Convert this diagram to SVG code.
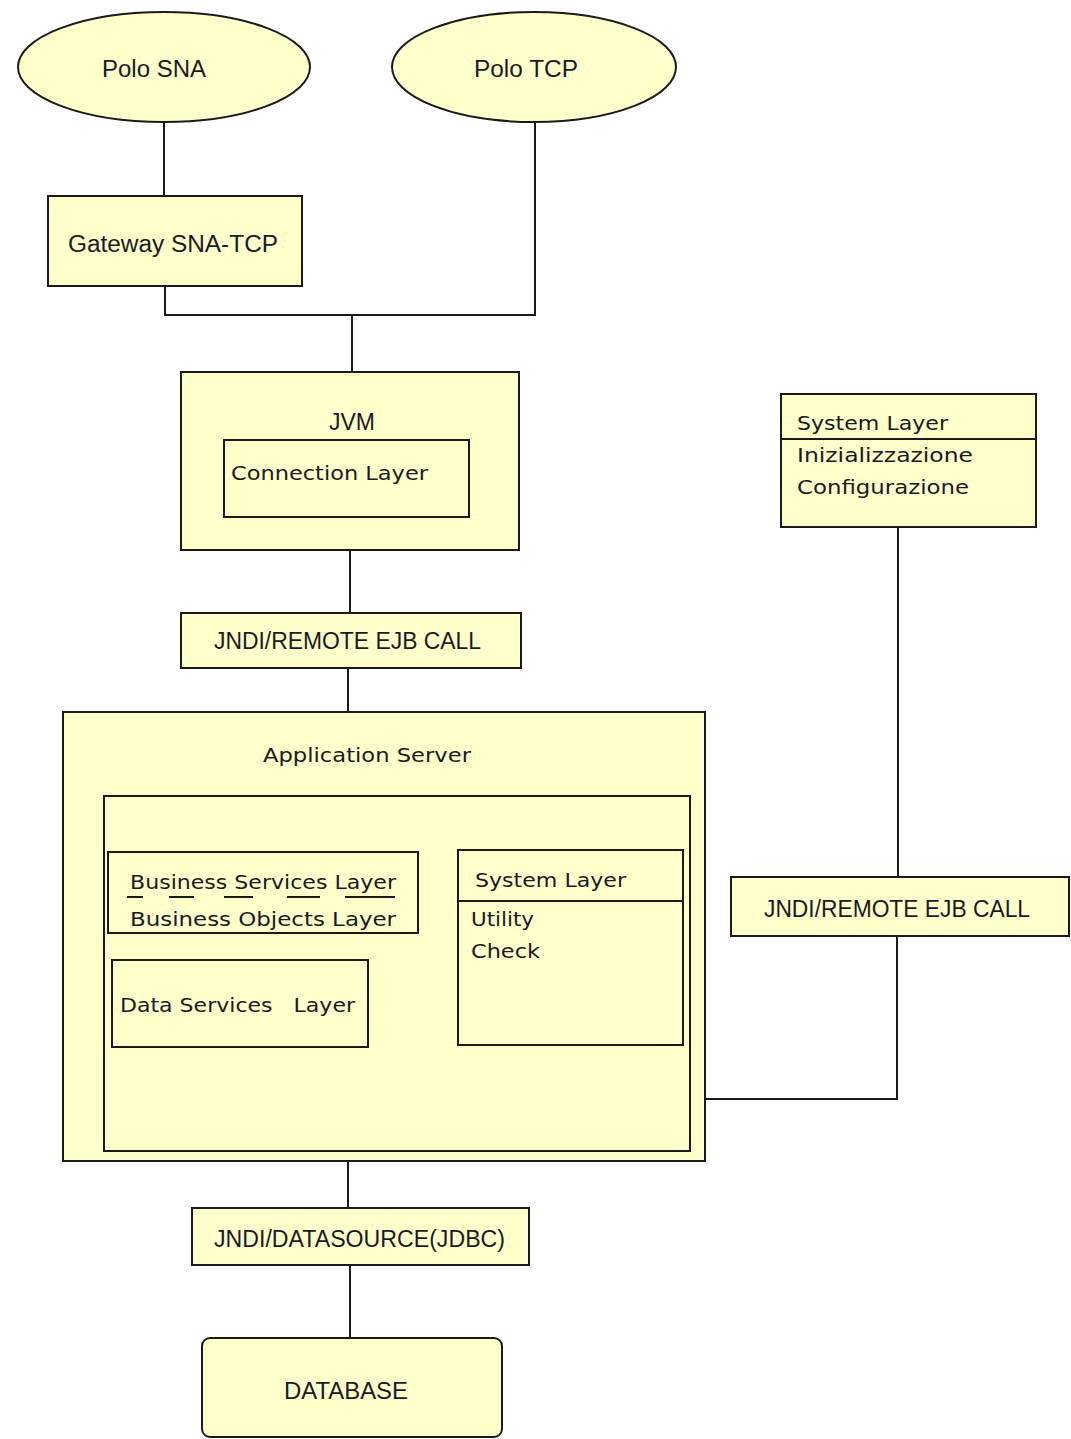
<svg xmlns="http://www.w3.org/2000/svg" width="1071" height="1439" viewBox="0 0 1071 1439">
<style>
.n{fill:#FFFFCC;stroke:#1a1a1a;stroke-width:2}
.c{fill:none;stroke:#1a1a1a;stroke-width:2}
.t{font-family:"DejaVu Sans",sans-serif;font-size:20px;fill:#1a1a1a}
.a{font-family:"Liberation Sans",Arial,sans-serif;font-size:23px;fill:#1a1a1a}
.m{text-anchor:middle}
</style>
<rect width="1071" height="1439" fill="#ffffff"/>
<g id="connectors">
<path class="c" d="M164 122V196"/>
<path class="c" d="M165 286V315H535V122"/>
<path class="c" d="M352 315V372"/>
<path class="c" d="M350 550V613"/>
<path class="c" d="M348 668V712"/>
<path class="c" d="M898 527V877"/>
<path class="c" d="M897 936V1099H705"/>
<path class="c" d="M348 1161V1208"/>
<path class="c" d="M350 1265V1338"/>
</g>
<g id="polo-sna">
<ellipse class="n" cx="164" cy="67" rx="146" ry="55"/>
<text class="a m" x="154" y="77" textLength="104" lengthAdjust="spacingAndGlyphs">Polo SNA</text>
</g>
<g id="polo-tcp">
<ellipse class="n" cx="534" cy="67" rx="142" ry="55"/>
<text class="a m" x="526" y="77" textLength="104" lengthAdjust="spacingAndGlyphs">Polo TCP</text>
</g>
<g id="gateway">
<rect class="n" x="48" y="196" width="254" height="90"/>
<text class="a" x="68" y="252" textLength="210" lengthAdjust="spacingAndGlyphs">Gateway SNA-TCP</text>
</g>
<g id="jvm">
<rect class="n" x="181" y="372" width="338" height="178"/>
<text class="a m" x="352" y="430" textLength="46" lengthAdjust="spacingAndGlyphs">JVM</text>
<g id="connection-layer">
<rect class="n" x="224" y="440" width="245" height="77"/>
<text class="t" x="231" y="480" textLength="197" lengthAdjust="spacingAndGlyphs">Connection Layer</text>
</g>
</g>
<g id="jndi-remote-1">
<rect class="n" x="181" y="613" width="340" height="55"/>
<text class="a" x="214" y="649" textLength="267" lengthAdjust="spacingAndGlyphs">JNDI/REMOTE EJB CALL</text>
</g>
<g id="app-server">
<rect class="n" x="63" y="712" width="642" height="449"/>
<text class="t" x="263" y="762" textLength="208" lengthAdjust="spacingAndGlyphs">Application Server</text>
<rect class="n" x="104" y="796" width="586" height="355"/>
<g id="business">
<rect class="n" x="108" y="852" width="310" height="81"/>
<text class="t" x="130" y="889" textLength="266" lengthAdjust="spacingAndGlyphs">Business Services Layer</text>
<path class="c" d="M127 897H143M169 897H194M224 897H253M287 897H320M345 897H395"/>
<text class="t" x="130" y="926" textLength="266" lengthAdjust="spacingAndGlyphs">Business Objects Layer</text>
</g>
<g id="data-services">
<rect class="n" x="112" y="960" width="256" height="87"/>
<text class="t" x="120" y="1012" textLength="235" lengthAdjust="spacingAndGlyphs" xml:space="preserve">Data Services   Layer</text>
</g>
<g id="system-layer-inner">
<rect class="n" x="458" y="850" width="225" height="195"/>
<path class="c" d="M458 901H683"/>
<text class="t" x="475" y="887" textLength="151" lengthAdjust="spacingAndGlyphs">System Layer</text>
<text class="t" x="471" y="926" textLength="63" lengthAdjust="spacingAndGlyphs">Utility</text>
<text class="t" x="471" y="958" textLength="69" lengthAdjust="spacingAndGlyphs">Check</text>
</g>
</g>
<g id="system-layer-right">
<rect class="n" x="781" y="394" width="255" height="133"/>
<path class="c" d="M781 439H1036"/>
<text class="t" x="797" y="430" textLength="151" lengthAdjust="spacingAndGlyphs">System Layer</text>
<text class="t" x="797" y="462" textLength="176" lengthAdjust="spacingAndGlyphs">Inizializzazione</text>
<text class="t" x="797" y="494" textLength="172" lengthAdjust="spacingAndGlyphs">Configurazione</text>
</g>
<g id="jndi-remote-2">
<rect class="n" x="731" y="877" width="338" height="59"/>
<text class="a" x="764" y="917" textLength="266" lengthAdjust="spacingAndGlyphs">JNDI/REMOTE EJB CALL</text>
</g>
<g id="jndi-datasource">
<rect class="n" x="192" y="1208" width="337" height="57"/>
<text class="a" x="214" y="1247" textLength="291" lengthAdjust="spacingAndGlyphs">JNDI/DATASOURCE(JDBC)</text>
</g>
<g id="database">
<rect class="n" x="202" y="1338" width="300" height="99" rx="8" ry="8"/>
<text class="a" x="284" y="1399" textLength="124" lengthAdjust="spacingAndGlyphs">DATABASE</text>
</g>
</svg>
